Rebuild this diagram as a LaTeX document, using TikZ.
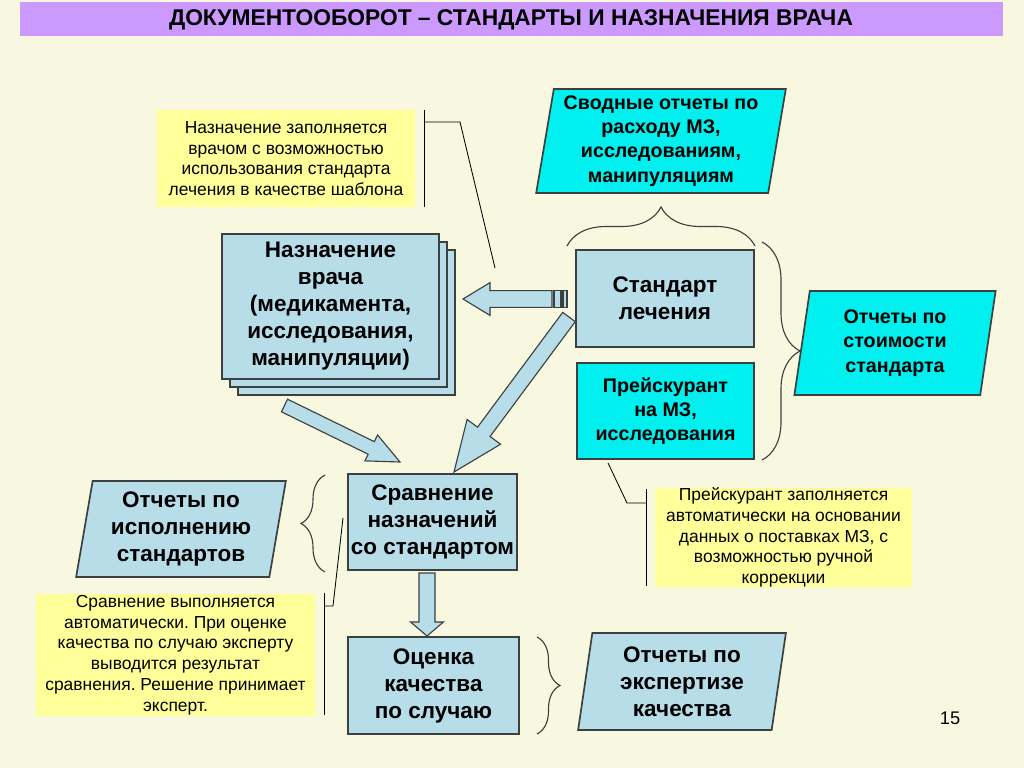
\documentclass[tikz,border=0pt]{standalone}
\usepackage{fontspec}
\setmainfont{Liberation Sans}
\usetikzlibrary{calc,shapes.geometric,shadows,decorations.pathreplacing}
\definecolor{bg}{RGB}{248,248,224}
\definecolor{lilac}{RGB}{204,153,255}
\definecolor{paleblue}{RGB}{183,221,232}
\definecolor{aqua}{RGB}{0,240,240}
\definecolor{notefill}{RGB}{255,255,153}
\definecolor{edge}{RGB}{60,64,64}
\frenchspacing

% block arrow: tail, tip, half shaft, half head, head length
\newcommand{\fatarrow}[5]{%
\coordinate (neck) at ($(#2)!#5!(#1)$);
\draw[fat] ($(#1)!#3!90:(#2)$) -- ($(neck)!#3!-90:(#1)$) -- ($(neck)!#4!-90:(#1)$) -- (#2)
  -- ($(neck)!#4!90:(#1)$) -- ($(neck)!#3!90:(#1)$) -- ($(#1)!#3!-90:(#2)$) -- cycle;}

\begin{document}
\begin{tikzpicture}[x=0.025cm,y=-0.025cm,
box/.style={draw=edge,line width=1.2pt,fill=paleblue,inner sep=0pt,outer sep=0pt,align=center,font=\bfseries\fontsize{16}{19.2}\selectfont},
cyanbox/.style={box,fill=aqua,font=\bfseries\fontsize{14}{17.3}\selectfont},
slanted/.style 2 args={trapezium,trapezium stretches=true,trapezium left angle=#1,trapezium right angle=#2},
notebox/.style={fill=notefill,inner sep=0pt,align=center,font=\fontsize{12.4}{14.8}\selectfont},
callout/.style={draw=black,line width=0.6pt},
curly/.style={draw=edge,line width=0.8pt,decorate,decoration={brace,amplitude=#1}},
fat/.style={draw=edge,line width=0.8pt,fill=paleblue,line join=miter}]

\fill[bg] (0,0) rectangle (1024,768);
\useasboundingbox (0,0) rectangle (1024,768);
\fill[lilac] (20,2) rectangle (1003,36);
\node[font=\bfseries\fontsize{16.2}{20}\selectfont] (title) at (511,20) {ДОКУМЕНТООБОРОТ – СТАНДАРТЫ И НАЗНАЧЕНИЯ ВРАЧА};

% notes
\node[notebox,minimum width=6.45cm,minimum height=2.425cm] (note1) at (286,158.5) {Назначение заполняется\\врачом с возможностью\\использования стандарта\\лечения в качестве шаблона};
\node[notebox,minimum width=6.425cm,minimum height=2.425cm] (note2) at (783.5,537.5) {Прейскурант заполняется\\автоматически на основании\\данных о поставках МЗ, с\\возможностью ручной\\коррекции};
\node[notebox,minimum width=6.975cm,minimum height=3.05cm] (note3) at (175.5,655) {Сравнение выполняется\\автоматически. При оценке\\качества по случаю эксперту\\выводится результат\\сравнения. Решение принимает\\эксперт.};

% boxes
\node[box,minimum width=5.425cm,minimum height=3.625cm,double copy shadow={shadow xshift=0.2cm,shadow yshift=-0.2cm}] (order) at (330.5,306.5) {Назначение\\врача\\(медикамента,\\исследования,\\манипуляции)};
\node[box,minimum width=4.45cm,minimum height=2.425cm] (std) at (665,298.5) {Стандарт\\лечения};
\node[cyanbox,minimum width=4.425cm,minimum height=2.4cm] (price) at (665.5,411) {Прейскурант\\на МЗ,\\исследования};
\node[box,minimum width=4.225cm,minimum height=2.4cm] (cmp) at (432.5,522) {Сравнение\\назначений\\со стандартом};
\node[box,minimum width=4.275cm,minimum height=2.425cm] (eval) at (433.5,685.5) {Оценка\\качества\\по случаю};

% reports
\node[cyanbox,slanted={80}{100},minimum width=6.25cm,minimum height=2.6cm] (sum) at (661,141) {Сводные отчеты по\\расходу МЗ,\\исследованиям,\\манипуляциям};
\node[cyanbox,slanted={82}{98},minimum width=5.05cm,minimum height=2.6cm] (cost) at (895,343) {Отчеты по\\стоимости\\стандарта};
\node[box,slanted={80}{100},minimum width=5.25cm,minimum height=2.4cm] (exec) at (181,529) {Отчеты по\\исполнению\\стандартов};
\node[box,slanted={82}{98},minimum width=5.2cm,minimum height=2.425cm] (expert) at (682,681.5) {Отчеты по\\экспертизе\\качества};

\node[font=\fontsize{13}{15}\selectfont] (page) at (950,718) {15};

% callouts
\coordinate (c1a) at (424,110); \coordinate (c1b) at (424,207);
\coordinate (c1c) at (424,122); \coordinate (c1d) at (460,122); \coordinate (c1e) at (495,268);
\draw[callout] (c1a) -- (c1b);
\draw[callout] (c1c) -- (c1d) -- (c1e);
\coordinate (c2a) at (646,489); \coordinate (c2b) at (646,586);
\coordinate (c2c) at (646,503); \coordinate (c2d) at (627,503); \coordinate (c2e) at (608,463);
\draw[callout] (c2a) -- (c2b);
\draw[callout] (c2c) -- (c2d) -- (c2e);
\coordinate (c3a) at (324,593); \coordinate (c3b) at (324,715);
\coordinate (c3c) at (324,606); \coordinate (c3d) at (333,606); \coordinate (c3e) at (343,518);
\draw[callout] (c3a) -- (c3b);
\draw[callout] (c3c) -- (c3d) -- (c3e);

% braces
\draw[curly=0.975cm] (567,246) -- (755,246);
\draw[curly=0.95cm] (762,242) -- (762,460);
\draw[curly=0.6cm] (325,572) -- (325,475);
\draw[curly=0.575cm] (537,637) -- (537,734);

% block arrows
\coordinate (a1tail) at (552,299); \coordinate (a1tip) at (463,299);
\fatarrow{a1tail}{a1tip}{0.21cm}{0.41cm}{0.675cm}
\draw[fat] (554,290.5) rectangle (561,307.5);
\draw[fat] (563,290.5) rectangle (567,307.5);
\coordinate (a2tail) at (569,317); \coordinate (a2tip) at (454,472);
\fatarrow{a2tail}{a2tip}{0.195cm}{0.52cm}{1.25cm}
\coordinate (a3tail) at (284.5,405.5); \coordinate (a3tip) at (400,462);
\fatarrow{a3tail}{a3tip}{0.175cm}{0.36cm}{0.8cm}
\coordinate (a4tail) at (427,573); \coordinate (a4tip) at (427,636);
\fatarrow{a4tail}{a4tip}{0.2cm}{0.41cm}{0.35cm}
\end{tikzpicture}
\end{document}
